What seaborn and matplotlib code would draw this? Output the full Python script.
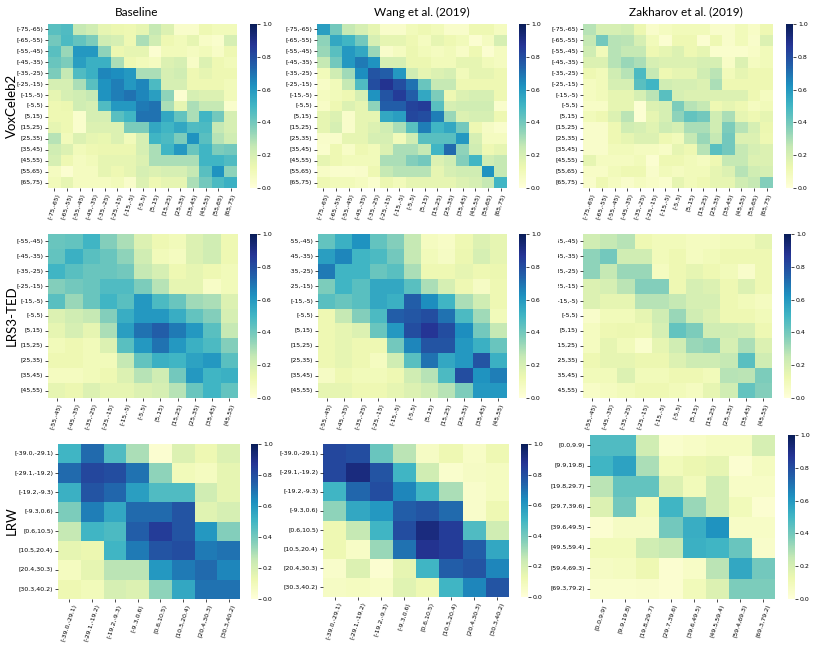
import matplotlib
matplotlib.use("Agg")
import matplotlib.pyplot as plt
import seaborn as sns
import numpy as np
import pandas as pd
from matplotlib.transforms import Bbox, TransformedBbox

# ---- data ---------------------------------------------------------------
col_titles = ["Baseline", "Wang et al. (2019)", "Zakharov et al. (2019)"]
row_titles = ["VoxCeleb2", "LRS3-TED", "LRW"]

vox_bins = ["[-75,-65)", "[-65,-55)", "[-55,-45)", "[-45,-35)", "[-35,-25)",
            "[-25,-15)", "[-15,-5)", "[-5,5)", "[5,15)", "[15,25)", "[25,35)",
            "[35,45)", "[45,55)", "[55,65)", "[65,75)"]
lrs_bins = ["[-55,-45)", "[-45,-35)", "[-35,-25)", "[-25,-15)", "[-15,-5)",
            "[-5,5)", "[5,15)", "[15,25)", "[25,35)", "[35,45)", "[45,55)"]
lrw_bins = ["[-39.0,-29.1)", "[-29.1,-19.2)", "[-19.2,-9.3)", "[-9.3,0.6)",
            "[0.6,10.5)", "[10.5,20.4)", "[20.4,30.3)", "[30.3,40.2)"]
lrw_bins_zak = ["[0.0,9.9)", "[9.9,19.8)", "[19.8,29.7)", "[29.7,39.6)",
                "[39.6,49.5)", "[49.5,59.4)", "[59.4,69.3)", "[69.3,79.2)"]

vox_baseline = [
    [.45, .47, .25, .22, .15, .13, .12, .15, .25, .18, .05, .05, .12, .10, .10],
    [.40, .48, .43, .38, .22, .20, .12, .30, .22, .12, .10, .15, .06, .04, .20],
    [.45, .33, .60, .60, .35, .13, .15, .15, .03, .10, .10, .08, .10, .06, .12],
    [.42, .38, .58, .52, .52, .30, .12, .10, .08, .18, .20, .06, .18, .12, .10],
    [.38, .25, .47, .52, .65, .63, .60, .30, .30, .20, .22, .12, .15, .12, .12],
    [.20, .20, .30, .45, .62, .67, .60, .65, .48, .20, .20, .12, .12, .12, .10],
    [.15, .20, .22, .25, .62, .67, .70, .65, .58, .35, .03, .20, .18, .18, .10],
    [.12, .13, .22, .20, .47, .60, .60, .68, .70, .30, .15, .30, .25, .25, .04],
    [.12, .12, .04, .20, .20, .45, .50, .70, .70, .55, .43, .30, .50, .40, .20],
    [.15, .12, .04, .18, .18, .18, .38, .38, .55, .50, .55, .47, .48, .25, .20],
    [.28, .10, .18, .15, .14, .18, .10, .20, .50, .48, .38, .62, .45, .28, .22],
    [.22, .18, .10, .12, .13, .13, .13, .20, .30, .50, .60, .42, .50, .38, .40],
    [.20, .12, .08, .10, .15, .15, .15, .18, .30, .30, .30, .30, .50, .50, .47],
    [.08, .03, .08, .08, .15, .12, .15, .20, .18, .20, .20, .25, .45, .62, .35],
    [.10, .15, .08, .08, .08, .10, .05, .18, .12, .15, .15, .30, .40, .48, .52],
]
vox_wang = [
    [.58, .40, .25, .20, .15, .05, .05, .10, .12, .10, .05, .05, .12, .12, .08],
    [.35, .55, .50, .40, .20, .15, .15, .12, .08, .15, .12, .10, .03, .08, .20],
    [.33, .45, .60, .55, .33, .05, .08, .13, .10, .08, .10, .06, .12, .03, .08],
    [.25, .40, .60, .68, .62, .20, .20, .13, .13, .10, .10, .15, .15, .10, .08],
    [.10, .22, .32, .63, .78, .75, .60, .22, .15, .18, .20, .10, .15, .15, .12],
    [.06, .10, .25, .47, .80, .88, .80, .70, .42, .25, .25, .12, .12, .12, .12],
    [.08, .10, .12, .20, .62, .78, .85, .75, .55, .38, .12, .18, .20, .20, .12],
    [.06, .12, .18, .15, .35, .75, .75, .83, .85, .45, .20, .22, .22, .22, .04],
    [.15, .18, .05, .15, .15, .55, .58, .82, .80, .67, .33, .18, .20, .20, .12],
    [.15, .20, .05, .15, .18, .22, .30, .45, .67, .50, .55, .40, .12, .07, .04],
    [.05, .05, .15, .15, .20, .20, .10, .22, .45, .45, .45, .60, .20, .08, .08],
    [.04, .12, .06, .12, .10, .18, .30, .30, .25, .50, .72, .35, .22, .12, .15],
    [.15, .12, .10, .10, .10, .30, .30, .37, .40, .18, .22, .37, .50, .22, .25],
    [.06, .04, .04, .05, .12, .25, .28, .28, .28, .15, .20, .22, .22, .62, .25],
    [.12, .10, .10, .08, .04, .13, .10, .15, .15, .15, .15, .18, .20, .25, .50],
]
vox_zakharov = [
    [.28, .20, .20, .22, .13, .05, .08, .10, .10, .10, .05, .05, .10, .06, .12],
    [.25, .40, .28, .27, .20, .10, .03, .12, .12, .03, .12, .05, .10, .05, .18],
    [.22, .10, .28, .25, .25, .12, .15, .18, .12, .15, .04, .04, .04, .06, .10],
    [.18, .18, .28, .33, .30, .20, .18, .18, .18, .20, .20, .06, .18, .08, .10],
    [.12, .10, .22, .28, .48, .25, .12, .15, .15, .22, .27, .10, .15, .12, .12],
    [.08, .10, .20, .20, .45, .50, .22, .20, .20, .18, .30, .12, .12, .12, .12],
    [.08, .10, .15, .15, .20, .27, .45, .20, .18, .18, .18, .18, .18, .12, .08],
    [.06, .06, .15, .15, .02, .18, .20, .38, .28, .25, .12, .15, .12, .08, .10],
    [.10, .12, .18, .27, .02, .15, .20, .35, .43, .40, .22, .30, .15, .12, .15],
    [.05, .05, .12, .22, .20, .17, .23, .20, .30, .30, .22, .38, .28, .20, .13],
    [.05, .05, .12, .15, .18, .18, .12, .10, .25, .33, .25, .40, .18, .18, .12],
    [.05, .05, .10, .10, .08, .08, .06, .15, .12, .28, .45, .40, .25, .20, .18],
    [.15, .08, .08, .08, .10, .03, .12, .12, .10, .08, .12, .25, .25, .18, .18],
    [.06, .06, .10, .12, .12, .05, .10, .08, .10, .10, .15, .18, .28, .22, .20],
    [.05, .12, .08, .05, .08, .06, .04, .15, .10, .12, .15, .15, .22, .25, .37],
]

lrs_baseline = [
    [.42, .43, .50, .37, .30, .18, .12, .10, .18, .22, .12],
    [.43, .52, .45, .42, .35, .22, .10, .08, .18, .22, .12],
    [.50, .45, .42, .42, .40, .25, .20, .12, .15, .12, .10],
    [.37, .40, .42, .47, .47, .38, .28, .15, .15, .06, .10],
    [.45, .33, .42, .50, .45, .60, .48, .42, .32, .30, .18],
    [.18, .22, .25, .37, .53, .60, .60, .53, .43, .37, .20],
    [.15, .20, .15, .30, .58, .70, .75, .68, .60, .45, .25],
    [.10, .12, .10, .18, .45, .60, .70, .60, .52, .48, .37],
    [.12, .12, .10, .10, .25, .43, .52, .50, .57, .60, .45],
    [.08, .08, .10, .12, .18, .28, .22, .40, .60, .50, .52],
    [.15, .13, .18, .15, .15, .18, .20, .28, .42, .50, .43],
]
lrs_wang = [
    [.43, .52, .62, .43, .37, .25, .08, .06, .12, .18, .15],
    [.58, .65, .50, .48, .40, .25, .10, .07, .13, .20, .15],
    [.68, .50, .50, .42, .45, .30, .12, .12, .15, .12, .13],
    [.38, .50, .45, .55, .55, .45, .30, .20, .12, .07, .12],
    [.45, .42, .45, .55, .52, .75, .63, .50, .30, .22, .12],
    [.12, .25, .37, .48, .75, .77, .80, .70, .48, .32, .10],
    [.12, .15, .18, .42, .60, .80, .87, .80, .63, .40, .25],
    [.12, .15, .12, .12, .40, .65, .78, .78, .60, .52, .42],
    [.12, .15, .12, .08, .22, .45, .70, .55, .60, .78, .52],
    [.07, .12, .10, .10, .12, .22, .28, .48, .80, .62, .67],
    [.15, .15, .12, .12, .15, .18, .22, .28, .38, .60, .60],
]
lrs_zakharov = [
    [.22, .25, .28, .12, .10, .10, .08, .08, .10, .10, .15],
    [.35, .40, .22, .22, .10, .12, .08, .10, .12, .12, .12],
    [.35, .25, .33, .33, .08, .12, .15, .12, .10, .05, .12],
    [.18, .20, .27, .37, .37, .12, .20, .18, .12, .18, .12],
    [.18, .15, .15, .28, .28, .25, .20, .20, .12, .10, .08],
    [.05, .10, .10, .15, .22, .33, .22, .18, .12, .12, .10],
    [.08, .12, .13, .12, .20, .43, .38, .22, .22, .20, .12],
    [.08, .15, .10, .04, .15, .22, .33, .35, .20, .30, .18],
    [.12, .15, .15, .13, .13, .18, .23, .23, .25, .45, .22],
    [.10, .10, .18, .10, .10, .12, .12, .10, .28, .27, .38],
    [.06, .08, .10, .12, .12, .10, .08, .15, .22, .43, .37],
]

lrw_baseline = [
    [.50, .72, .47, .30, .03, .18, .12, .18],
    [.72, .82, .80, .70, .35, .10, .08, .15],
    [.52, .78, .73, .58, .47, .47, .22, .15],
    [.38, .67, .55, .72, .72, .78, .17, .20],
    [.25, .50, .48, .75, .85, .78, .60, .37],
    [.15, .13, .50, .68, .78, .80, .68, .70],
    [.08, .15, .27, .27, .60, .68, .72, .65],
    [.12, .10, .20, .18, .35, .55, .70, .70],
]
lrw_wang = [
    [.82, .80, .42, .27, .07, .12, .06, .12],
    [.82, .92, .78, .50, .22, .04, .07, .08],
    [.50, .73, .80, .65, .50, .30, .05, .08],
    [.35, .55, .60, .75, .78, .72, .05, .12],
    [.12, .25, .50, .80, .92, .85, .47, .22],
    [.12, .06, .33, .70, .88, .85, .75, .55],
    [.05, .18, .03, .15, .50, .75, .78, .65],
    [.07, .08, .06, .17, .12, .50, .65, .78],
]
lrw_zakharov = [
    [.47, .47, .22, .04, .06, .08, .08, .20],
    [.50, .57, .30, .10, .13, .15, .03, .08],
    [.27, .43, .43, .18, .10, .22, .06, .06],
    [.18, .40, .10, .50, .33, .22, .10, .03],
    [.03, .07, .07, .40, .53, .62, .06, .06],
    [.10, .10, .22, .25, .52, .50, .42, .05],
    [.07, .08, .12, .03, .06, .27, .55, .40],
    [.04, .04, .05, .03, .10, .18, .38, .38],
]

# ---- layout (pixel boxes: left, top, right, bottom) ---------------------
W, H = 814, 649
panels = [
    # data, labels, heatmap box, colorbar box, clip-left x, clip-bottom y
    (vox_baseline, vox_bins, (48, 24, 237, 188), (250, 24, 257, 188), None, None),
    (vox_wang, vox_bins, (317, 24, 507, 188), (519, 24, 526, 188), None, None),
    (vox_zakharov, vox_bins, (583, 24, 773, 188), (786, 24, 793, 188), None, None),
    (lrs_baseline, lrs_bins, (48, 234, 238, 398), (250, 234, 257, 398), None, None),
    (lrs_wang, lrs_bins, (318, 234, 507, 398), (519, 234, 526, 398), 290, None),
    (lrs_zakharov, lrs_bins, (583, 234, 772, 398), (784, 234, 791, 398), 558, 435),
    (lrw_baseline, lrw_bins, (58, 444, 240, 599), (251, 444, 258, 599), None, None),
    (lrw_wang, lrw_bins, (323, 444, 509, 597), (521, 444, 528, 597), None, None),
    (lrw_zakharov, lrw_bins_zak, (590, 435, 775, 599), (788, 435, 795, 599), None, None),
]

fig = plt.figure(figsize=(W / 100, H / 100), dpi=100)


def px_axes(box):
    l, t, r, b = box
    return fig.add_axes([l / W, 1 - b / H, (r - l) / W, (b - t) / H])


def clip_box(x0=0, y_bottom=H):
    bb = Bbox.from_extents(x0 / W, 1 - y_bottom / H, 1, 1)
    return TransformedBbox(bb, fig.transFigure)


for data, labels, hbox, cbox, clip_x, clip_y in panels:
    ax = px_axes(hbox)
    cax = px_axes(cbox)
    df = pd.DataFrame(np.array(data), index=labels, columns=labels)
    sns.heatmap(df, ax=ax, cbar_ax=cax, cmap="YlGnBu", vmin=0, vmax=1,
                xticklabels=labels, yticklabels=labels)
    ax.tick_params(labelsize=4.5, length=2, width=0.5, pad=1.5)
    for lab in ax.get_xticklabels():
        lab.set_rotation(72)
    for lab in ax.get_yticklabels():
        lab.set_rotation(0)
    cax.tick_params(labelsize=4.5, length=2, width=0.5, pad=1.5)
    if clip_x is not None:
        for lab in ax.get_yticklabels():
            lab.set_clip_on(True)
            lab.set_clip_box(clip_box(x0=clip_x))
    if clip_y is not None:
        for lab in ax.get_xticklabels():
            lab.set_clip_on(True)
            lab.set_clip_box(clip_box(y_bottom=clip_y))

for x, t in zip([137, 422, 686], col_titles):
    fig.text(x / W, 1 - 12 / H, t, ha="center", va="center",
             fontsize=8.5, family=["Lato", "DejaVu Sans"])

for y, t in zip([106, 316, 521], row_titles):
    fig.text(12 / W, 1 - y / H, t, ha="center", va="center", rotation=90,
             fontsize=9.5, family=["Lato", "DejaVu Sans"])

fig.savefig("out.png", dpi=100)
